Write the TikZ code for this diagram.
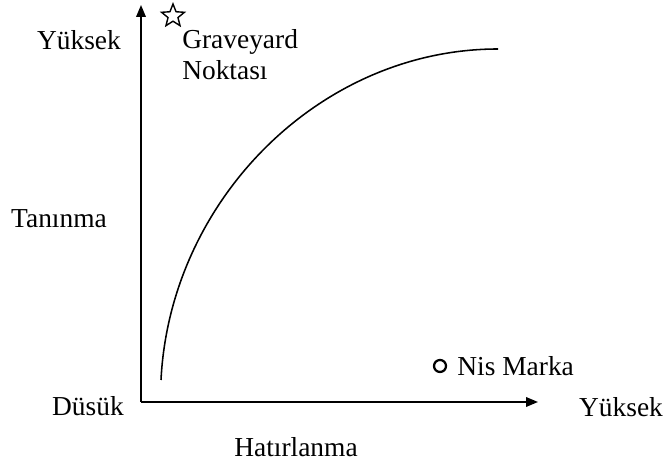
\documentclass[tikz,border=0pt]{standalone}
\usepackage{fontspec}
\setmainfont{Liberation Serif}
\usepackage{tikz}
\usetikzlibrary{positioning,arrows.meta,shapes.geometric}

\begin{document}
\begin{tikzpicture}[
  every node/.style={font=\fontsize{19.5}{22.5}\selectfont},
  axis/.style={-{Triangle[length=3mm,width=2.4mm]}, line width=1.2pt},
  lbl/.style={inner sep=0pt},
  curve/.style={line width=1.1pt}
]
\useasboundingbox (-3.525,-1.625) rectangle (13.075,10.05);
% Axes
\coordinate (o) at (0,0);
\coordinate (ytip) at (0,9.925);
\coordinate (xtip) at (9.925,0);
\draw[axis] (o) -- (ytip);
\draw[axis] (o) -- (xtip);
% Axis labels
\node[lbl] (yhigh) at (-1.55,9.05)  {Yüksek};
\node[lbl] (ymid)  at (-2.05,4.575) {Tanınma};
\node[lbl] (low)   at (-1.325,-0.1) {Düsük};
\node[lbl] (xhigh) at (12.0,-0.125) {Yüksek};
\node[lbl] (xname) at (3.875,-1.125) {Hatırlanma};
% Curve
\coordinate (cstart) at (0.5,0.55);
\coordinate (cend)   at (8.925,8.825);
\draw[curve] (cstart) .. controls (0.725,5.05) and (4.475,8.825) .. (cend);
% Graveyard point
\node[star, star points=5, star point ratio=2.3, draw, line width=1pt,
      minimum size=0.6cm, inner sep=0pt] (grave) at (0.8,9.65) {};
\node[lbl, align=left, anchor=north west] (gravetxt) at (1.025,9.33)
  {Graveyard\\Noktası};
% Niche brand
\node[circle, draw, line width=1.6pt, minimum size=0.3cm, inner sep=0pt]
  (nis) at (7.475,0.9) {};
\node[lbl, anchor=west, right=0.25cm of nis] (nistxt) {Nis Marka};
\end{tikzpicture}
\end{document}
